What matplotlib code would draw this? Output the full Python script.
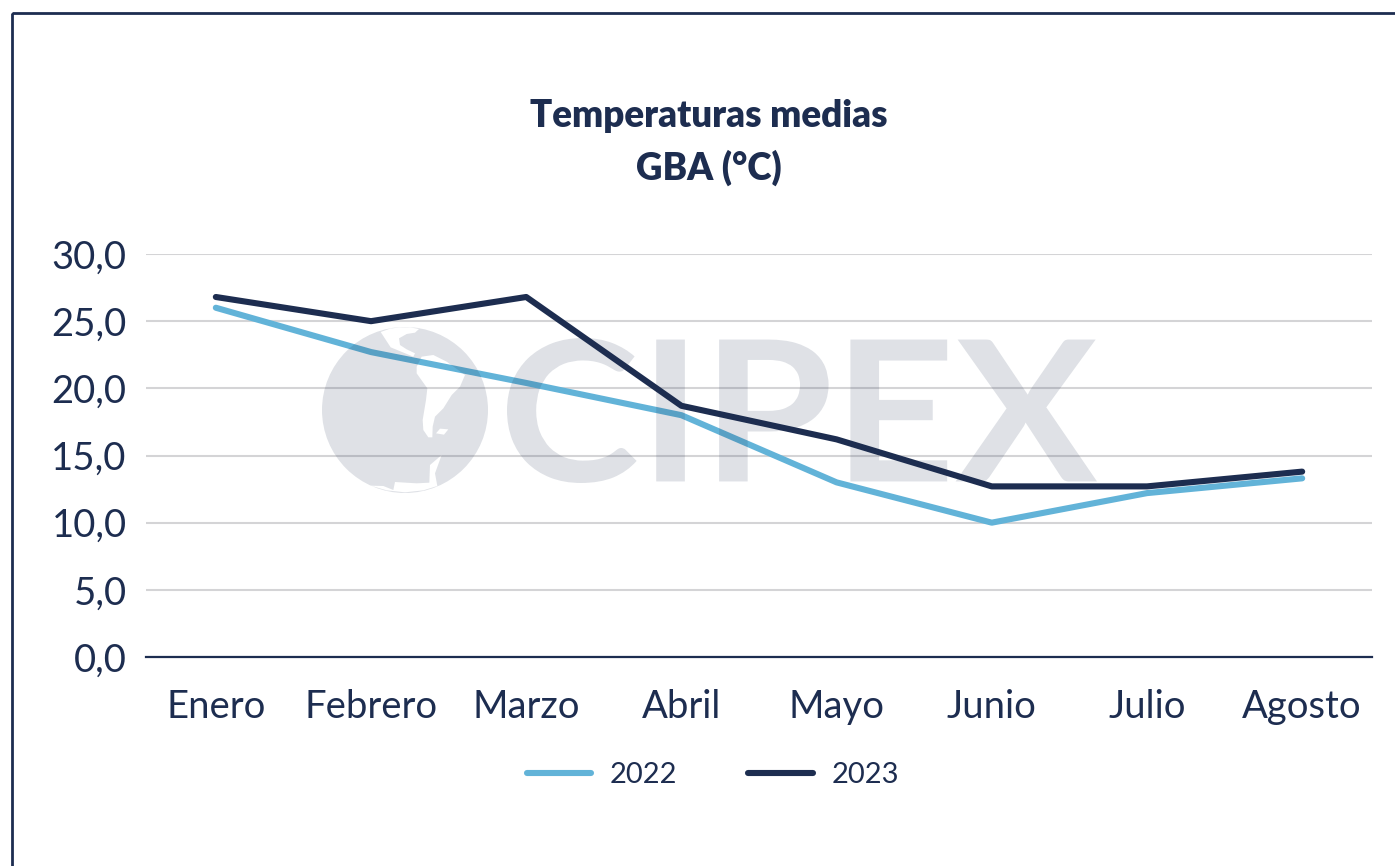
import matplotlib
matplotlib.use("Agg")
import matplotlib.pyplot as plt
from matplotlib.font_manager import FontProperties
from matplotlib.patches import PathPatch, Rectangle
from matplotlib.path import Path
from matplotlib.textpath import TextPath
from matplotlib.transforms import Affine2D

months = ["Enero", "Febrero", "Marzo", "Abril", "Mayo", "Junio", "Julio", "Agosto"]
temp_2022 = [26.0, 22.7, 20.4, 18.0, 13.0, 10.0, 12.2, 13.3]
temp_2023 = [26.8, 25.0, 26.8, 18.7, 16.2, 12.7, 12.7, 13.8]
yticks = [0, 5, 10, 15, 20, 25, 30]
ytick_labels = ["0,0", "5,0", "10,0", "15,0", "20,0", "25,0", "30,0"]

NAVY = "#1d2d50"
BLUE = "#62b3d8"
W, H = 1395, 866

plt.rcParams["font.family"] = ["Lato", "DejaVu Sans"]

south_america = [(365, 140), (400, 135), (440, 155), (495, 195), (480, 230), (455, 255),
                 (430, 295), (405, 320), (398, 350), (397, 382), (385, 382), (370, 360),
                 (368, 330), (378, 270), (382, 235), (350, 190), (350, 170)]
north_america = [(242, 66), (270, 56), (300, 52), (330, 52), (357, 57), (345, 68), (320, 72),
                 (297, 85), (300, 105), (320, 118), (345, 130), (340, 140), (272, 112)]
antarctica = [(212, 527), (260, 541), (315, 547), (370, 541), (412, 528), (405, 490), (425, 435),
              (390, 465), (388, 518), (350, 520), (285, 516), (280, 540), (250, 528)]
falklands = [(408, 370), (420, 356), (445, 358), (432, 374)]


def crop_to_hole(points):
    pts = [(300 + px / 3, 310 + py / 3) for px, py in points]
    area = sum(a[0] * b[1] - b[0] * a[1] for a, b in zip(pts, pts[1:] + pts[:1]))
    # Path.circle winds counter clockwise, a hole has to wind the other way
    if area > 0:
        pts = pts[::-1]
    return Path(pts + [pts[0]], closed=True)


fig = plt.figure(figsize=(W / 100, H / 100), dpi=100)

bg = fig.add_axes([0, 0, 1, 1], zorder=0)
bg.set_xlim(0, W)
bg.set_ylim(H, 0)
bg.axis("off")
bg.add_patch(Rectangle((12, 13), 1500, 1000, fill=False, ec=NAVY, lw=2))

ax = fig.add_axes([146 / W, 1 - 657 / H, (1372 - 146) / W, (657 - 254) / H], zorder=1)
ax.patch.set_alpha(0)
x = range(len(months))
ax.plot(x, temp_2022, color=BLUE, lw=4.4, solid_capstyle="round", label="2022")
ax.plot(x, temp_2023, color=NAVY, lw=4.4, solid_capstyle="round", label="2023")

ax.set_xlim(-0.45, 7.45)
ax.set_ylim(0, 30)
ax.set_yticks(yticks, ytick_labels)
ax.set_xticks(list(x), months)
ax.grid(axis="y", color="#d4d4d6", lw=1.5)
ax.set_axisbelow(True)
ax.tick_params(length=0, labelsize=27.5, labelcolor=NAVY)
ax.tick_params(axis="x", pad=23)
ax.tick_params(axis="y", pad=14)
for s in ["top", "right", "left"]:
    ax.spines[s].set_visible(False)
ax.spines["bottom"].set_color(NAVY)
ax.spines["bottom"].set_linewidth(1.6)

# watermark goes over the chart, it tints the lines and the grid
wm = fig.add_axes([0, 0, 1, 1], zorder=2)
wm.set_xlim(0, W)
wm.set_ylim(H, 0)
wm.axis("off")
disk = Path.circle((405, 410), 83)
holes = [crop_to_hole(p) for p in [south_america, north_america, antarctica, falklands]]
wm.add_patch(PathPatch(Path.make_compound_path(disk, *holes), fc=NAVY, ec="none", alpha=0.14))

word = TextPath((0, 0), "CIPEX", size=100, prop=FontProperties(family="Lato", weight="bold"))
box = word.get_extents()
fit = (Affine2D().translate(-box.x0, -box.y0)
       .scale((1097 - 507) / box.width, -(483 - 338) / box.height)
       .translate(507, 483))
wm.add_patch(PathPatch(word.transformed(fit), fc=NAVY, ec="none", alpha=0.14))

fig.text(709 / W, 1 - 116 / H, "Temperaturas medias", fontsize=26.5, fontweight="heavy",
         color=NAVY, ha="center", va="center", zorder=5)
fig.text(709 / W, 1 - 168 / H, "GBA (°C)", fontsize=26.5, fontweight="heavy",
         color=NAVY, ha="center", va="center", zorder=5)

leg = fig.legend(loc="center", bbox_to_anchor=(713 / W, 1 - 775 / H), ncol=2, frameon=False,
                 fontsize=21, labelcolor=NAVY, handlelength=2.2, columnspacing=2.43,
                 handletextpad=0.65)
leg.set_zorder(5)

fig.savefig("out.png", dpi=100)
